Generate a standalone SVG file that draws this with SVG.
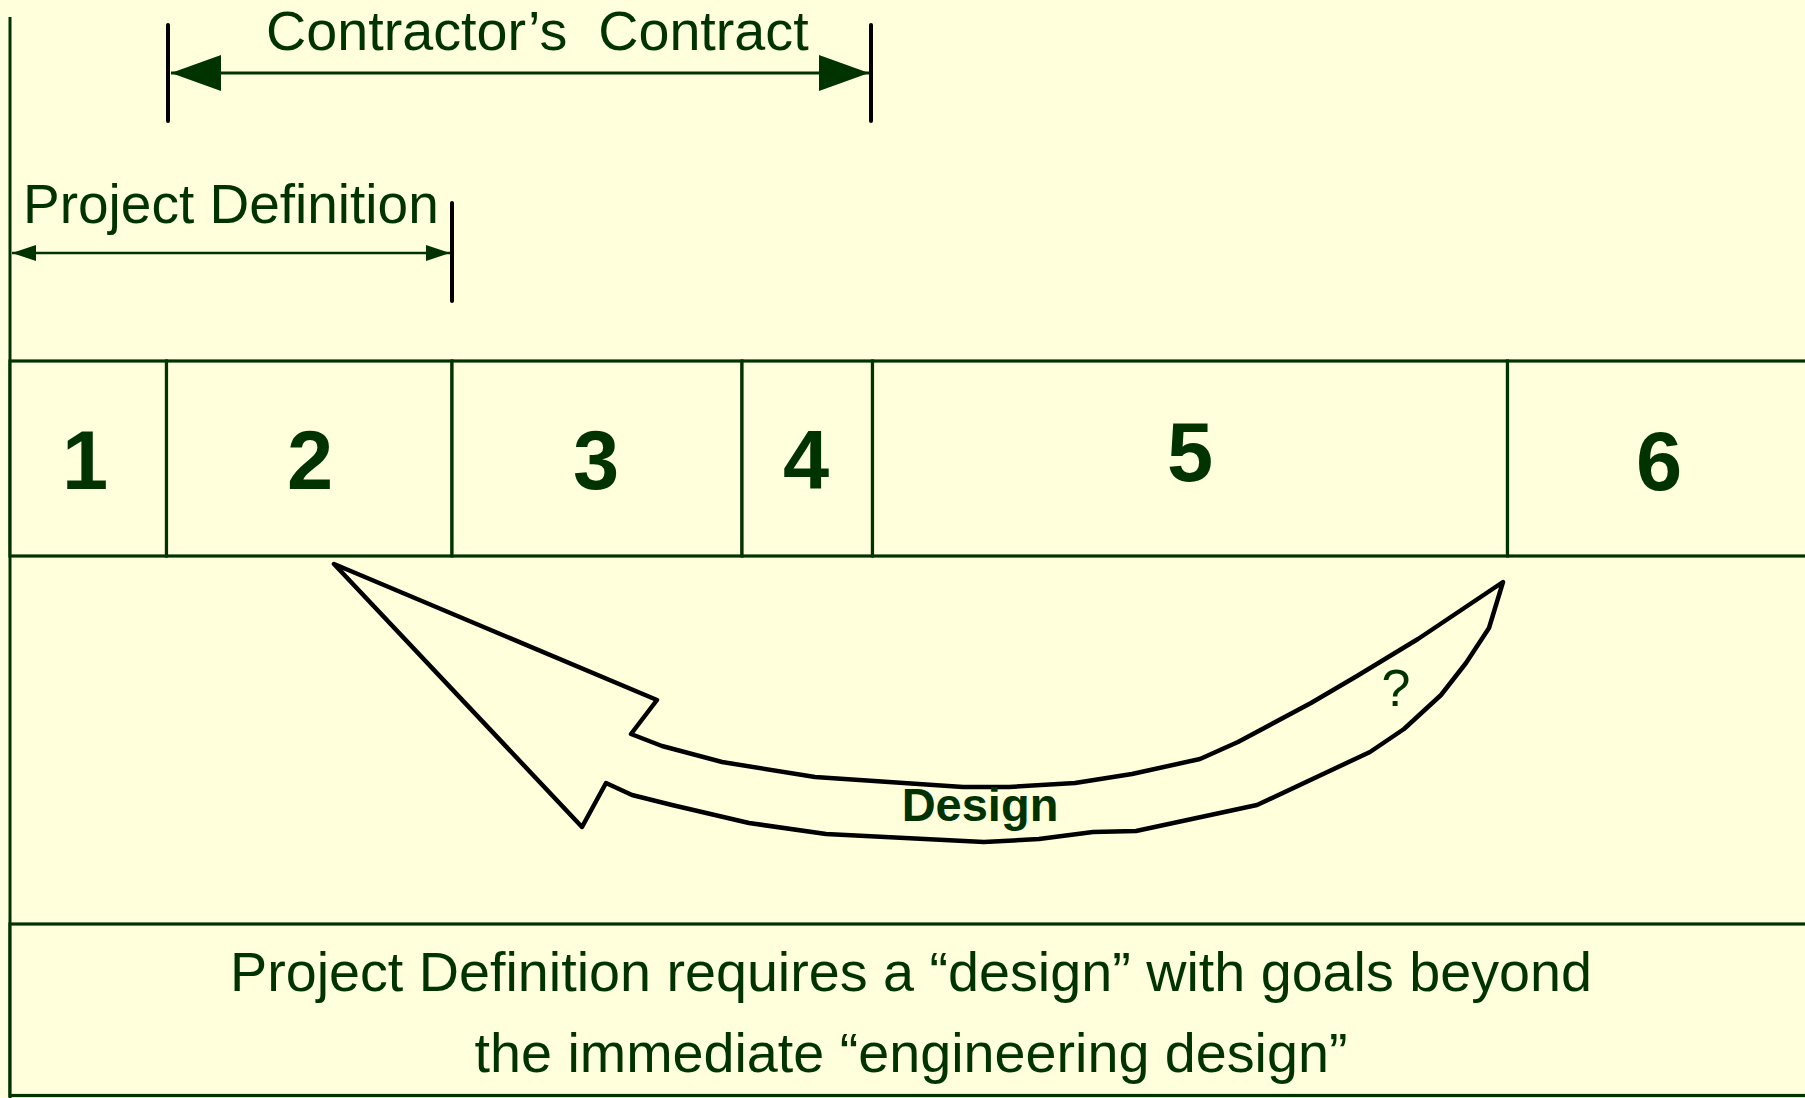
<svg xmlns="http://www.w3.org/2000/svg" width="1805" height="1098" viewBox="0 0 1805 1098">
  <defs>
    <style>
      .bg { fill: #FFFFDC; }
      .cell { fill: #FFFFDC; stroke: #003300; stroke-width: 3.2; }
      .num { font-family: "Liberation Sans", Arial, sans-serif; font-weight: bold; font-size: 83px; fill: #003300; text-anchor: middle; }
      .lbl { font-family: "Liberation Sans", Arial, sans-serif; font-size: 55px; fill: #003300; white-space: pre; }
      .cap { font-family: "Liberation Sans", Arial, sans-serif; font-size: 55.7px; fill: #003300; text-anchor: middle; }
      .tick { stroke: #000; stroke-width: 4; stroke-linecap: round; }
      .dim { stroke: #003300; fill: none; }
      .design { fill: #FFFFDC; stroke: #000; stroke-width: 4.5; stroke-linejoin: round; }
    </style>
    <marker id="headBig" viewBox="0 -18 50 36" refX="50" refY="0" markerWidth="50" markerHeight="36" markerUnits="userSpaceOnUse" orient="auto-start-reverse">
      <path d="M0,-18 L50,0 L0,18 z" fill="#003300"/>
    </marker>
    <marker id="headSmall" viewBox="0 -8 24 16" refX="24" refY="0" markerWidth="24" markerHeight="16" markerUnits="userSpaceOnUse" orient="auto-start-reverse">
      <path d="M0,-8 L24,0 L0,8 z" fill="#003300"/>
    </marker>
  </defs>

  <rect class="bg" x="0" y="0" width="1805" height="1098"/>

  <!-- left frame line -->
  <line x1="10" y1="17" x2="10" y2="1098" stroke="#003300" stroke-width="3"/>

  <!-- span brackets -->
  <g id="contract-span">
    <line class="tick" x1="168" y1="25" x2="168" y2="121"/>
    <line class="tick" x1="871" y1="25" x2="871" y2="121"/>
    <text class="lbl" x="266" y="50" style="font-size:55.7px" xml:space="preserve">Contractor’s  Contract</text>
  </g>
  <g id="definition-span">
    <line class="tick" x1="452" y1="203" x2="452" y2="301"/>
    <text class="lbl" x="23" y="223">Project Definition</text>
  </g>

  <!-- phase cells -->
  <g id="phase-1">
    <rect class="cell" x="10" y="361" width="156.5" height="195"/>
    <text class="num" x="85" y="489">1</text>
  </g>
  <g id="phase-2">
    <rect class="cell" x="166.5" y="361" width="285.5" height="195"/>
    <text class="num" x="310" y="489">2</text>
  </g>
  <g id="phase-3">
    <rect class="cell" x="452" y="361" width="290" height="195"/>
    <text class="num" x="596" y="489">3</text>
  </g>
  <g id="phase-4">
    <rect class="cell" x="742" y="361" width="130.5" height="195"/>
    <text class="num" x="806" y="489">4</text>
  </g>
  <g id="phase-5">
    <rect class="cell" x="872.5" y="361" width="635" height="195"/>
    <text class="num" x="1190" y="481">5</text>
  </g>
  <g id="phase-6">
    <rect class="cell" x="1507.5" y="361" width="305" height="195"/>
    <text class="num" x="1659" y="490">6</text>
  </g>

  <!-- caption box -->
  <g id="caption">
    <rect class="cell" x="10" y="924" width="1805" height="171.5"/>
    <text class="cap" x="911" y="991">Project Definition requires a “design” with goals beyond</text>
    <text class="cap" x="911" y="1072">the immediate “engineering design”</text>
  </g>

  <!-- connectors -->
  <g id="connectors">
    <line class="dim" x1="171" y1="73" x2="869" y2="73" stroke-width="3.2" marker-start="url(#headBig)" marker-end="url(#headBig)"/>
    <line class="dim" x1="12" y1="253" x2="450" y2="253" stroke-width="2.5" marker-start="url(#headSmall)" marker-end="url(#headSmall)"/>

    <g id="design-loop">
      <path class="design" d="M334,564 L657,700 L631,734 L662,746 L722,762 L815,777 L963,787 L1009,787 L1075,783 L1132,774 L1200,759 L1238,742 L1311,703 L1357,676 L1418,639 L1503,582 L1489,628 L1466,663 L1441,695 L1404,729 L1370,752 L1257,805 L1136,831 L1093,832 L1039,839 L984,842 L826,834 L749,823 L672,805 L632,795 L606,783 L582,827 Z"/>
      <text x="980" y="821" font-family="Liberation Sans, Arial, sans-serif" font-weight="bold" font-size="47" fill="#003300" text-anchor="middle">Design</text>
      <text x="1396" y="706" font-family="Liberation Sans, Arial, sans-serif" font-size="52" fill="#003300" text-anchor="middle">?</text>
    </g>
  </g>
</svg>
